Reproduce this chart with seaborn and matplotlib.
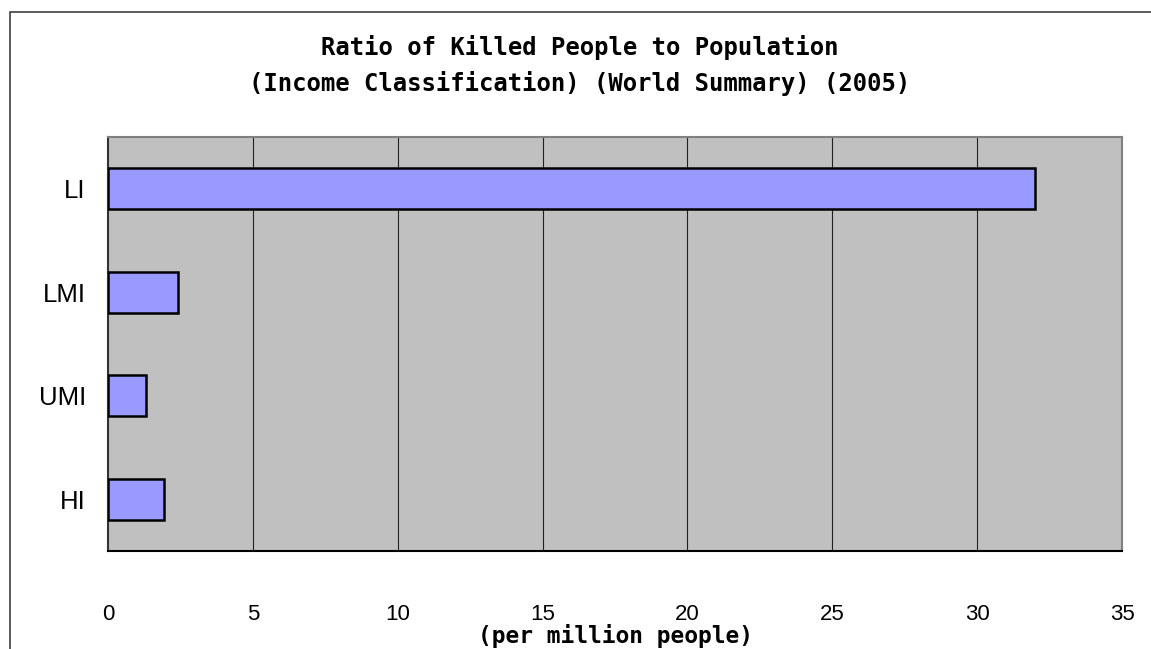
import matplotlib
matplotlib.use("Agg")
import matplotlib.pyplot as plt
import seaborn as sns
import pandas as pd
from matplotlib.patches import Rectangle

# data
categories = ["LI", "LMI", "UMI", "HI"]
values = [32.0, 2.42, 1.31, 1.94]
x_ticks = [0, 5, 10, 15, 20, 25, 30, 35]

df = pd.DataFrame({"group": categories, "ratio": values})

sns.set_theme(style="white")
plt.rcParams["font.family"] = ["Liberation Sans", "DejaVu Sans"]
plt.rcParams["text.color"] = "black"
gothic = ["DejaVu Sans Mono"]

fig = plt.figure(figsize=(11.51, 6.49), dpi=100)
fig.patch.set_facecolor("white")
ax = fig.add_axes([108 / 1151, 98 / 649, 1014 / 1151, 414 / 649])
ax.set_facecolor("#C0C0C0")

sns.barplot(data=df, x="ratio", y="group", order=categories, orient="h",
            color="#9999FF", saturation=1, width=0.4,
            edgecolor="black", linewidth=1.8, ax=ax, zorder=3)

ax.set_xlim(0, 35)
ax.set_ylim(3.5, -0.5)
ax.set_xticks(x_ticks)
ax.set_xticklabels([str(t) for t in x_ticks], fontsize=16, color="black")
ax.tick_params(axis="x", length=0, pad=38)
ax.tick_params(axis="y", which="major", length=0, pad=16, labelsize=18.5, labelcolor="black")
ax.set_yticks([0.5, 1.5, 2.5], minor=True)
ax.tick_params(axis="y", which="minor", direction="in", length=7, width=0.8, color="#333333")

for t in x_ticks[1:-1]:
    ax.axvline(t, color="#222222", lw=0.8, zorder=1)

for side in ["top", "right"]:
    ax.spines[side].set_color("#808080")
    ax.spines[side].set_linewidth(1.5)
ax.spines["left"].set_color("#333333")
ax.spines["left"].set_linewidth(1.5)
ax.spines["bottom"].set_color("black")
ax.spines["bottom"].set_linewidth(1.5)

ax.set_ylabel("")
ax.set_xlabel("(per million people)", fontsize=16.5, family=gothic,
              fontweight="bold", color="black")
ax.xaxis.set_label_coords(0.5, -0.177)

fig.text(0.504, 1 - 48 / 649, "Ratio of Killed People to Population",
         ha="center", va="center", fontsize=17.2, family=gothic,
         fontweight="bold", color="black")
fig.text(0.504, 1 - 84 / 649, "(Income Classification) (World Summary) (2005)",
         ha="center", va="center", fontsize=17.2, family=gothic,
         fontweight="bold", color="black")

# outer chart frame, clipped at right and bottom like the source
fig.patches.append(Rectangle((10 / 1151, -0.2), 1.2, 1.2 - 12 / 649,
                             transform=fig.transFigure, fill=False,
                             edgecolor="#404040", lw=1.2))

fig.savefig("out.png", dpi=100)
